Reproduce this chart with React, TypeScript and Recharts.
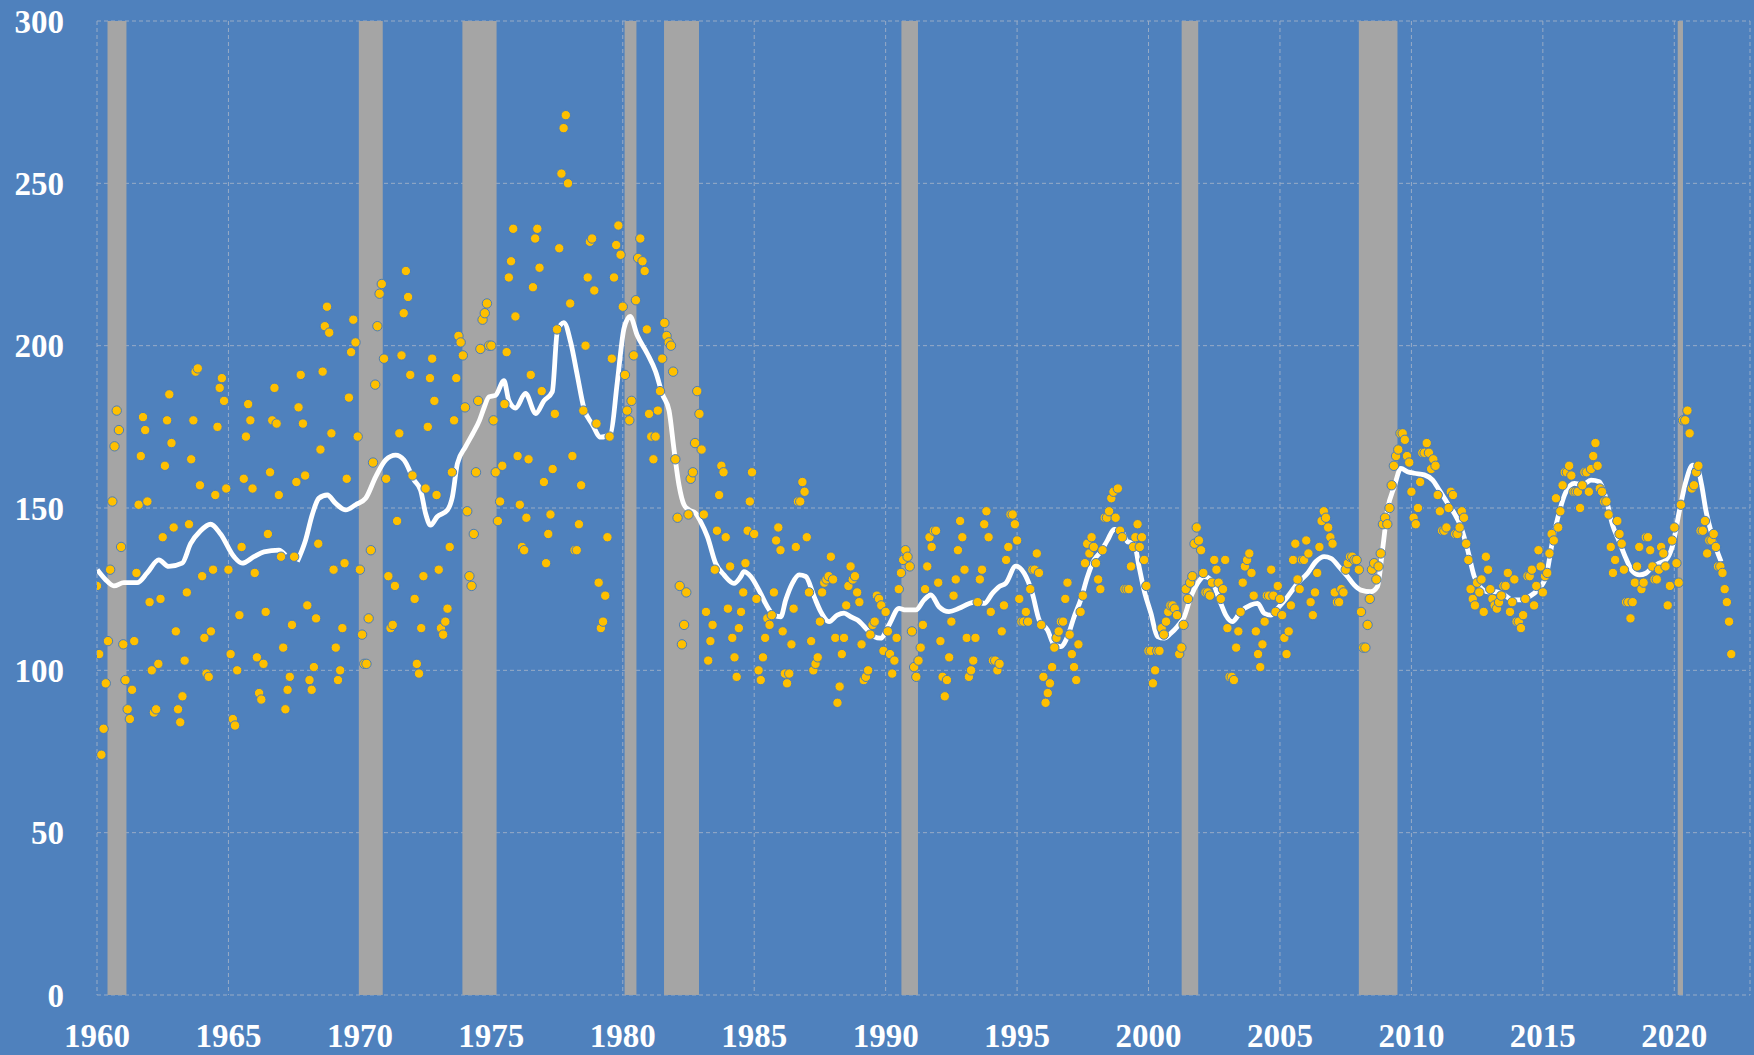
import React from 'react';
import {
  ComposedChart,
  Scatter,
  Line,
  XAxis,
  YAxis,
  CartesianGrid,
  ReferenceArea,
} from 'recharts';

// Monthly values, January to December of each year
const monthly1960s: number[] = [
  126, 105, 74, 82, 96, 109, 131, 152, 169, 180, 174, 138, // 1960
  108, 97, 88, 85, 94, 109, 130, 151, 166, 178, 174, 152, // 1961
  121, 100, 87, 88, 102, 122, 141, 163, 177, 185, 170, 144, // 1962
  112, 88, 84, 92, 103, 124, 145, 165, 177, 192, 193, 157, // 1963
  129, 110, 99, 98, 112, 131, 154, 175, 187, 190, 183, 156, // 1964
  131, 105, 85, 83, 100, 117, 138, 159, 172, 182, 177, 156, // 1965
  130, 104, 93, 91, 102, 118, 142, 161, 177, 187, 176, 154, // 1966
  135, 107, 88, 94, 98, 114, 135, 158, 181, 191, 176, 160, // 1967
  120, 97, 94, 101, 116, 139, 168, 192, 206, 212, 204, 173, // 1968
  131, 107, 97, 100, 113, 133, 159, 184, 198, 208, 201, 172, // 1969
];

const monthly1970s: number[] = [
  131, 111, 102, 102, 116, 137, 164, 188, 206, 216, 219, 196, // 1970
  159, 129, 113, 114, 126, 146, 173, 197, 210, 223, 215, 191, // 1971
  160, 122, 102, 99, 113, 129, 156, 175, 190, 196, 183, 154, // 1972
  131, 113, 111, 115, 119, 138, 161, 177, 190, 203, 201, 197, // 1973
  181, 149, 129, 126, 142, 161, 183, 199, 208, 210, 213, 200, // 1974
  200, 177, 161, 146, 152, 163, 182, 198, 221, 226, 236, 209, // 1975
  166, 151, 138, 137, 147, 165, 191, 218, 233, 236, 224, 186, // 1976
  158, 133, 142, 148, 162, 179, 205, 230, 253, 267, 271, 250, // 1977
  213, 166, 137, 137, 145, 157, 180, 200, 221, 232, 233, 217, // 1978
  176, 127, 113, 115, 123, 141, 172, 196, 221, 231, 237, 228, // 1979
];

const monthly1980s: number[] = [
  212, 191, 180, 177, 183, 197, 214, 227, 233, 226, 223, 205, // 1980
  179, 172, 165, 172, 180, 186, 196, 207, 203, 201, 200, 192, // 1981
  165, 147, 126, 108, 114, 124, 148, 159, 161, 170, 186, 179, // 1982
  168, 148, 118, 103, 109, 114, 131, 143, 154, 163, 161, 141, // 1983
  119, 132, 110, 104, 98, 113, 118, 124, 133, 143, 152, 161, // 1984
  142, 122, 100, 97, 104, 110, 116, 114, 117, 124, 140, 144, // 1985
  137, 112, 99, 96, 99, 108, 119, 138, 152, 152, 158, 155, // 1986
  141, 124, 109, 100, 102, 104, 115, 124, 127, 128, 129, 135, // 1987
  128, 110, 90, 95, 105, 110, 120, 126, 132, 128, 129, 124, // 1988
  121, 108, 97, 98, 100, 111, 114, 115, 123, 122, 120, 106, // 1989
];

const monthly1990s: number[] = [
  118, 112, 105, 99, 103, 110, 125, 130, 134, 137, 135, 132, // 1990
  112, 101, 98, 103, 107, 114, 125, 132, 141, 138, 143, 143, // 1991
  127, 109, 98, 92, 97, 104, 115, 123, 128, 137, 146, 141, // 1992
  131, 110, 98, 100, 103, 110, 121, 128, 131, 145, 149, 141, // 1993
  118, 103, 103, 100, 102, 112, 120, 134, 138, 148, 148, 145, // 1994
  140, 122, 115, 115, 118, 115, 125, 131, 131, 136, 130, 114, // 1995
  98, 90, 93, 96, 101, 107, 110, 112, 115, 115, 122, 127, // 1996
  111, 105, 101, 97, 108, 118, 123, 133, 139, 136, 141, 138, // 1997
  133, 128, 125, 137, 147, 147, 149, 153, 155, 147, 156, 143, // 1998
  141, 125, 125, 125, 132, 138, 141, 145, 138, 141, 134, 126, // 1999
];

const monthly2000s: number[] = [
  106, 106, 96, 100, 106, 106, 113, 111, 115, 118, 120, 120, // 2000
  119, 117, 105, 107, 114, 125, 122, 127, 129, 139, 144, 140, // 2001
  137, 130, 124, 124, 123, 127, 134, 131, 127, 122, 125, 134, // 2002
  113, 98, 98, 97, 107, 112, 118, 127, 132, 134, 136, 130, // 2003
  123, 112, 105, 101, 108, 115, 123, 123, 131, 123, 118, 126, // 2004
  122, 117, 110, 105, 112, 120, 134, 139, 128, 125, 134, 134, // 2005
  140, 136, 121, 117, 124, 130, 138, 146, 149, 147, 144, 141, // 2006
  139, 124, 121, 121, 125, 124, 131, 133, 135, 135, 134, 134, // 2007
  131, 118, 107, 107, 114, 122, 131, 133, 128, 132, 136, 145, // 2008
  147, 145, 150, 157, 163, 166, 168, 173, 173, 171, 166, 164, // 2009
];

const monthly2010s: number[] = [
  155, 147, 145, 150, 158, 167, 167, 170, 167, 162, 165, 163, // 2010
  154, 149, 143, 143, 144, 150, 155, 154, 142, 142, 144, 149, // 2011
  147, 139, 134, 125, 122, 120, 127, 124, 128, 118, 135, 131, // 2012
  125, 122, 120, 119, 121, 123, 126, 126, 130, 118, 121, 128, // 2013
  115, 115, 113, 117, 122, 129, 129, 131, 120, 126, 137, 132, // 2014
  124, 129, 130, 136, 142, 140, 153, 144, 149, 157, 161, 161, // 2015
  163, 160, 155, 155, 155, 150, 157, 161, 161, 155, 162, 166, // 2016
  170, 163, 156, 155, 152, 152, 148, 138, 130, 134, 146, 142, // 2017
  139, 131, 121, 121, 116, 121, 127, 132, 138, 125, 127, 141, // 2018
  141, 137, 132, 128, 128, 131, 138, 136, 132, 120, 126, 140, // 2019
];

const monthly2020s: number[] = [
  144, 133, 127, 151, 177, 177, 180, 173, 156, 157, 161, 163, // 2020
  143, 143, 146, 136, 140, 140, 142, 138, 132, 132, 130, 125, // 2021
  121, 115, 105, // 2022
];

const decadeStarts: number[] = [1960, 1970, 1980, 1990, 2000, 2010, 2020];
const decadeValues: number[][] = [
  monthly1960s, monthly1970s, monthly1980s, monthly1990s,
  monthly2000s, monthly2010s, monthly2020s,
];

// Moving average (white line)
const maYears: number[] = [
  1960.01, 1960.32, 1960.64, 1961.02, 1961.53, 1961.91, 1962.35, 1962.73, 1963.24, 1963.56,
  1963.94, 1964.32, 1964.70, 1965.21, 1965.52, 1965.97, 1966.35, 1966.92, 1967.17, 1967.35,
  1967.62, 1967.93, 1968.19, 1968.44, 1968.76, 1969.08, 1969.46, 1969.84, 1970.22, 1970.60,
  1970.98, 1971.36, 1971.68, 1972.06, 1972.31, 1972.50, 1972.69, 1972.94, 1973.33, 1973.52,
  1973.71, 1974.02, 1974.30, 1974.55, 1974.72, 1974.91, 1975.16, 1975.48, 1975.67, 1975.92,
  1976.30, 1976.69, 1977.00, 1977.32, 1977.51, 1977.76, 1978.02, 1978.27, 1978.52, 1978.84,
  1979.16, 1979.54, 1979.79, 1980.05, 1980.28, 1980.55, 1980.93, 1981.25, 1981.51, 1981.76,
  1981.95, 1982.14, 1982.33, 1982.52, 1982.77, 1982.96, 1983.22, 1983.53, 1983.85, 1984.23,
  1984.49, 1984.61, 1984.87, 1985.18, 1985.50, 1985.75, 1986.01, 1986.20, 1986.45, 1986.71,
  1986.96, 1987.28, 1987.53, 1987.85, 1988.16, 1988.42, 1988.67, 1988.93, 1989.31, 1989.56,
  1989.81, 1990.13, 1990.51, 1990.76, 1991.15, 1991.46, 1991.72, 1992.03, 1992.41, 1992.79,
  1993.18, 1993.49, 1993.75, 1994.06, 1994.32, 1994.57, 1994.95, 1995.27, 1995.58, 1995.84,
  1996.16, 1996.41, 1996.66, 1996.92, 1997.17, 1997.42, 1997.68, 1997.93, 1998.19, 1998.44,
  1998.69, 1998.95, 1999.20, 1999.45, 1999.64, 1999.83, 2000.09, 2000.34, 2000.60, 2000.85,
  2001.10, 2001.36, 2001.61, 2001.86, 2002.12, 2002.37, 2002.75, 2002.94, 2003.19, 2003.51,
  2003.89, 2004.15, 2004.40, 2004.65, 2004.91, 2005.29, 2005.67, 2006.05, 2006.37, 2006.68,
  2006.94, 2007.25, 2007.57, 2007.82, 2008.08, 2008.46, 2008.71, 2008.90, 2009.09, 2009.35,
  2009.60, 2009.85, 2010.11, 2010.49, 2010.81, 2011.06, 2011.38, 2011.63, 2011.88, 2012.14,
  2012.39, 2012.65, 2012.90, 2013.22, 2013.53, 2013.85, 2014.17, 2014.48, 2014.80, 2015.12,
  2015.35, 2015.60, 2015.88, 2016.20, 2016.51, 2016.83, 2017.15, 2017.40, 2017.65, 2017.91,
  2018.16, 2018.42, 2018.67, 2018.92, 2019.18, 2019.43, 2019.68, 2019.94, 2020.19, 2020.44,
  2020.70, 2020.89, 2021.04, 2021.21, 2021.40, 2021.59, 2021.78,
];
const maValues: (number | null)[] = [
  131, 128, 126, 127, 127, 130, 134, 132, 133, 139,
  143, 145, 142, 135, 133, 135, 136.5, 137, 135.5, null,
  133.5, 140, 148, 153, 154, 151.4, 149.4, 151, 153, 159.6,
  164.8, 166.3, 164.8, 158.6, 155.5, 148.3, 144.7, 147.3, 149.4, 153.5,
  163.7, 168.9, 173, 177, 180.8, 184.2, 184.7, 189.2, 183, 180.8,
  185.3, 179.1, 183, 185.8, 204.3, 207.1, 201, 190.9, 180.8, 175.8,
  171.8, 173, 188.6, 205.4, 209, 203.2, 197.6, 192, 185, 180,
  168, 157, 151, 149.4, 148.4, 145.8, 141.2, 133, 129.4, 126.8,
  128.9, 130.4, 128.9, 124.7, 119.6, 117, 116.5, 121.7, 126.8, 129.4,
  128.9, 122.7, 118.1, 115, 117, 117.6, 116.5, 115.5, 112.4, 110.4,
  109.9, 114, 119.1, 118.6, 118.6, 121.7, 123.2, 119.6, 118.1, 119.1,
  120.6, 121.2, 120.6, 123.7, 125.8, 126.8, 132.1, 129.9, 123.7, 115.5,
  112.4, 107.8, 107.3, 110.4, 116.5, 121.7, 128.9, 134, 136.6, 140.1,
  143.4, 143.2, 139.6, 139.1, 131.9, 124.7, 117.6, 110.4, 109.9, 111.4,
  113.5, 116.5, 122.7, 126.8, 128.9, 128, 120.6, 117, 115, 118.1,
  120.1, 120.6, 117.6, 117, 119.1, 122.7, 126.8, 129.9, 133.5, 135,
  134.5, 131.9, 128.9, 126.3, 124.7, 124.2, 125.8, 137, 149.4, 156.6,
  162.2, 161.2, 160.7, 160.2, 158.6, 155.5, 151.4, 148.4, 144.3, 137.1,
  128.9, 125.3, 124.2, 124.2, 123.2, 121.7, 121.7, 122.7, 124.7, 128.9,
  139, 148, 155, 157.6, 157.1, 158.6, 158.1, 153, 144.8, 139.6,
  134.5, 130.4, 129.4, 129.9, 131.9, 133, 134, 138.6, 148.9, 158.1,
  163.2, 162.2, 157.1, 148.9, 142.7, 137.6, 133.5,
];

// Recession periods (grey bands), start and end as decimal years
const recessionStarts: number[] = [1960.4, 1969.96, 1973.9, 1980.07, 1981.57, 1990.6, 2001.26, 2008.0, 2020.13];
const recessionEnds: number[] = [1961.12, 1970.87, 1975.2, 1980.52, 1982.9, 1991.23, 2001.89, 2009.47, 2020.33];

const xTicks: number[] = [1960, 1965, 1970, 1975, 1980, 1985, 1990, 1995, 2000, 2005, 2010, 2015, 2020];
const yTicks: number[] = [0, 50, 100, 150, 200, 250, 300];

const dots = decadeStarts.flatMap((start, d) =>
  decadeValues[d].map((v, i) => ({ x: start + i / 12, y: v }))
);
const maData = maYears.map((yr, i) => ({ x: yr, y: maValues[i] }));

const BG = '#4F81BD';
const tickStyle = {
  fill: '#FFFFFF',
  fontSize: 33,
  fontFamily: '"Liberation Serif", serif',
  fontWeight: 'bold' as const,
};

const Dot = (props: any) => {
  const { cx, cy } = props;
  if (cx == null || cy == null) return null;
  return <circle cx={cx} cy={cy} r={4.7} fill="#FFC000" stroke="#4A7DBA" strokeWidth={1} />;
};

export default function App() {
  return (
    <div style={{ position: 'absolute', left: 0, top: 0, width: 1754, height: 1055, background: BG }}>
      <ComposedChart
        width={1754}
        height={1055}
        margin={{ top: 21, right: 4, bottom: 0, left: 0 }}
      >
        <CartesianGrid stroke="#98ABC6" strokeDasharray="4 3" strokeWidth={1} />
        <XAxis
          type="number"
          dataKey="x"
          domain={[1960, 2022.88]}
          ticks={xTicks}
          allowDataOverflow
          axisLine={false}
          tickLine={false}
          tickSize={0}
          tickMargin={29}
          height={60}
          tick={tickStyle}
          interval={0}
        />
        <YAxis
          type="number"
          dataKey="y"
          domain={[0, 300]}
          ticks={yTicks}
          allowDataOverflow
          axisLine={false}
          tickLine={false}
          tickSize={0}
          tickMargin={33}
          width={97}
          tick={tickStyle}
          interval={0}
        />
        {recessionStarts.map((s, i) => (
          <ReferenceArea
            key={'rec' + i}
            x1={s}
            x2={recessionEnds[i]}
            y1={0}
            y2={300}
            fill="#A5A5A5"
            fillOpacity={1}
            stroke="none"
            ifOverflow="hidden"
          />
        ))}
        <Line
          data={maData}
          dataKey="y"
          type="monotone"
          stroke="#FFFFFF"
          strokeWidth={4.8}
          dot={false}
          activeDot={false}
          connectNulls={false}
          isAnimationActive={false}
        />
        <Scatter data={dots} dataKey="y" shape={Dot} isAnimationActive={false} />
      </ComposedChart>
    </div>
  );
}
